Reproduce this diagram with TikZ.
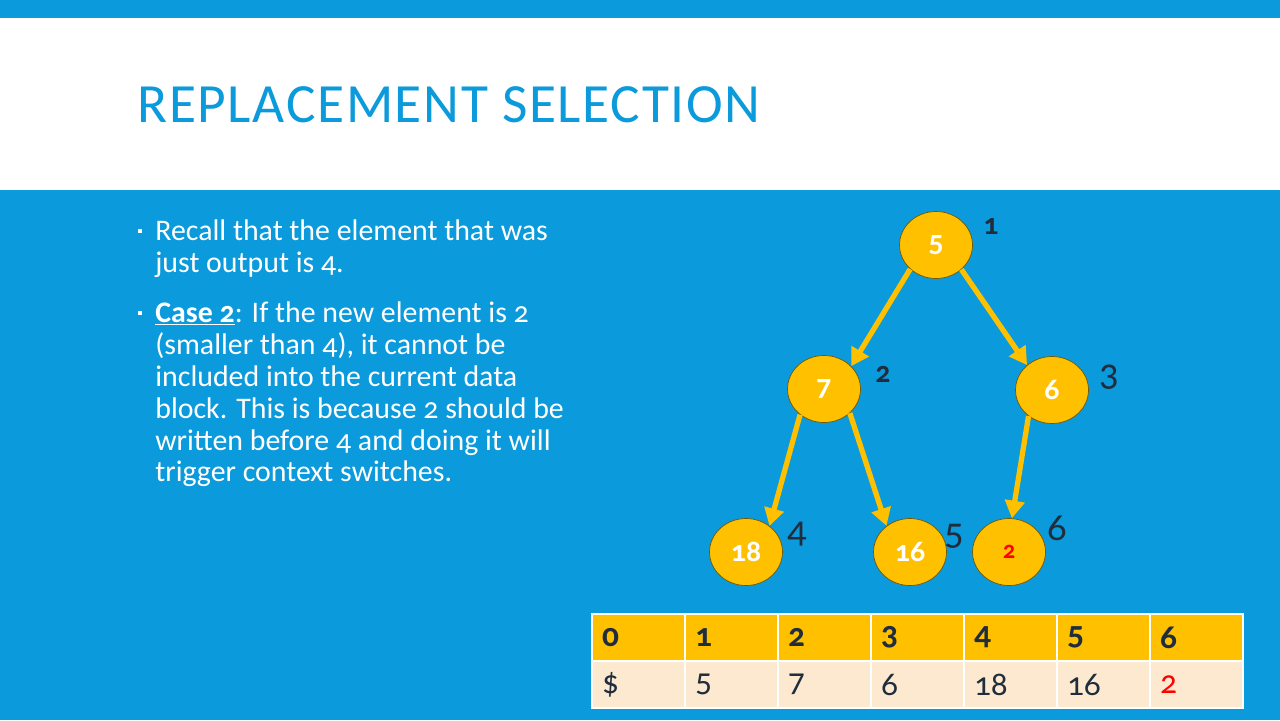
\documentclass[tikz,border=0pt]{standalone}
\usepackage{fontspec}
\setmainfont{Carlito}[Numbers=OldStyle]
\usepackage{tikz}
\usetikzlibrary{arrows.meta, shapes.geometric}

\definecolor{slideblue}{HTML}{0B9ADB}
\definecolor{heapgold}{HTML}{FFC000}
\definecolor{cellpeach}{HTML}{FDE9D0}
\definecolor{idxnavy}{HTML}{1F2D3D}

\begin{document}
\begin{tikzpicture}[x=0.02cm, y=-0.02cm,
  heap/.style={ellipse, draw=black!55!heapgold, fill=heapgold, minimum width=1.46cm, minimum height=1.34cm, inner sep=0pt, font=\fontsize{17}{18}\selectfont\bfseries, text=white},
  idx/.style={text=idxnavy, inner sep=0pt, font=\fontsize{22}{24}\selectfont},
  idxb/.style={text=idxnavy, inner sep=0pt, font=\fontsize{17}{18}\selectfont\bfseries},
  arr/.style={-{Triangle[length=10pt, width=11pt]}, line width=3pt, draw=heapgold},
  bullet/.style={fill=white, inner sep=0pt, minimum size=0.08cm},
  para/.style={anchor=north west, text=white, align=left, inner sep=0pt, font=\fontsize{17}{18.2}\selectfont},
  cell/.style={draw=white, line width=1.2pt, fill=#1, anchor=north west, minimum width=1.86cm, minimum height=0.94cm, text width=1.46cm, align=left, inner xsep=0.2cm, font=\fontsize{19}{20}\selectfont, text=idxnavy},
]
\useasboundingbox (0,0) rectangle (1280,720);

% Slide background
\fill[slideblue] (0,0) rectangle (1280,720);
\fill[white] (0,18) rectangle (1280,190);

\node[anchor=base west, inner sep=0pt, text=slideblue, font=\fontsize{31.5}{34}\selectfont\addfontfeature{LetterSpace=3}] (title) at (137,122) {REPLACEMENT SELECTION};

% Bullets
\node[bullet] (b1) at (140,231) {};
\node[para] (t1) at (155,219) {Recall that the element that was\\just output is 4.};
\node[bullet] (b2) at (140,313) {};
\node[para] (t2) at (155,301) {\underline{\textbf{Case 2}}: If the new element is 2\\(smaller than 4), it cannot be\\included into the current data\\block. This is because 2 should be\\written before 4 and doing it will\\trigger context switches.};

% Heap
\node[heap] (h1) at (936,245) {5};
\node[heap] (h2) at (824,389) {7};
\node[heap] (h3) at (1052,390) {6};
\node[heap] (h4) at (746,552) {18};
\node[heap] (h5) at (910,552) {16};
\node[heap, text=red, font=\fontsize{14}{16}\selectfont\bfseries] (h6) at (1009,552) {2};

% Slot numbers
\node[idxb] (i1) at (991,226) {1};
\node[idxb] (i2) at (883,374) {2};
\node[idx] (i3) at (1109,377) {3};
\node[idx] (i4) at (797,534) {4};
\node[idx] (i5) at (954,536) {5};
\node[idx] (i6) at (1057,528) {6};

% Links
\draw[arr] (h1.223) -- (h2.40);
\draw[arr] (h1.316) -- (h3.135);
\draw[arr] (h2.227) -- (h4.48);
\draw[arr] (h2.317) -- (h5.132);
\draw[arr] (h3.228) -- (h6.85);

% Array
\foreach \i/\v in {0/\$, 1/5, 2/7, 3/6, 4/18, 5/16, 6/\textcolor{red}{2}} {
  \node[cell=heapgold, font=\fontsize{19}{20}\selectfont\bfseries] (c\i) at ({591+93*\i},613) {\i};
  \node[cell=cellpeach] (d\i) at ({591+93*\i},660) {\v};
}

\end{tikzpicture}
\end{document}
